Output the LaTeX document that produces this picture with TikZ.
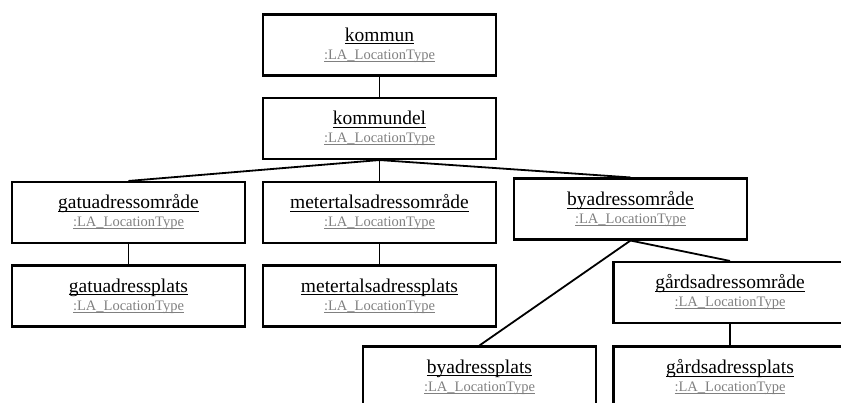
\documentclass[tikz,border=0pt]{standalone}
\usepackage{fontspec}
\setmainfont{Liberation Serif}
\usepackage{tikz}
\definecolor{typegray}{RGB}{128,128,128}
\newlength\ulwidth
\newcommand\ulined[2][-3pt]{\settowidth\ulwidth{#2}\rlap{\rule[#1]{\ulwidth}{0.9pt}}#2}
\newcommand\objtitle[1]{%
  \ulined{#1}\\
  {\fontsize{14.5}{18}\selectfont\color{typegray}\ulined[-2.4pt]{:LA\_LocationType}}}
\tikzset{
  objbox/.style={
    draw, line width=2.1pt, rectangle, inner sep=0pt,
    minimum width=233, minimum height=61,
    align=center, font=\fontsize{19.5}{18}\selectfont,
  },
  link/.style={line width=1.8pt},
}

\begin{document}
\begin{tikzpicture}[x=1pt,y=-1pt] % object diagram, pixel units
    \useasboundingbox (0,0) rectangle (841,403);
    \clip (0,0) rectangle (841,403);

    % top row
    \node [objbox] (kommun)    at (379.5,45)  {\objtitle{kommun}};
    \node [objbox] (kommundel) at (379.5,128.5) {\objtitle{kommundel}};

    % areas
    \node [objbox] (gatuomr)   at (128.5,212.5) {\objtitle{gatuadressområde}};
    \node [objbox] (meteromr)  at (379.5,212.5) {\objtitle{metertalsadressområde}};
    \node [objbox] (byomr)     at (630.5,209)   {\objtitle{byadressområde}};
    \node [objbox] (gardsomr)  at (730,292.5)   {\objtitle{gårdsadressområde}};

    % places
    \node [objbox] (gatuplats)  at (128.5,296) {\objtitle{gatuadressplats}};
    \node [objbox] (meterplats) at (379.5,296) {\objtitle{metertalsadressplats}};
    \node [objbox] (byplats)    at (479.5,377) {\objtitle{byadressplats}};
    \node [objbox] (gardsplats) at (730,377)   {\objtitle{gårdsadressplats}};

    % links
    \draw [link] (kommun) -- (kommundel);
    \foreach \n in {gatuomr,meteromr,byomr}
        \draw [link] (kommundel.south) -- (\n.north);
    \draw [link] (gatuomr) -- (gatuplats);
    \draw [link] (meteromr) -- (meterplats);
    \draw [link] (byomr.south) -- (byplats.north);
    \draw [link] (byomr.south) -- (gardsomr.north);
    \draw [link] (gardsomr) -- (gardsplats);
\end{tikzpicture}
\end{document}
